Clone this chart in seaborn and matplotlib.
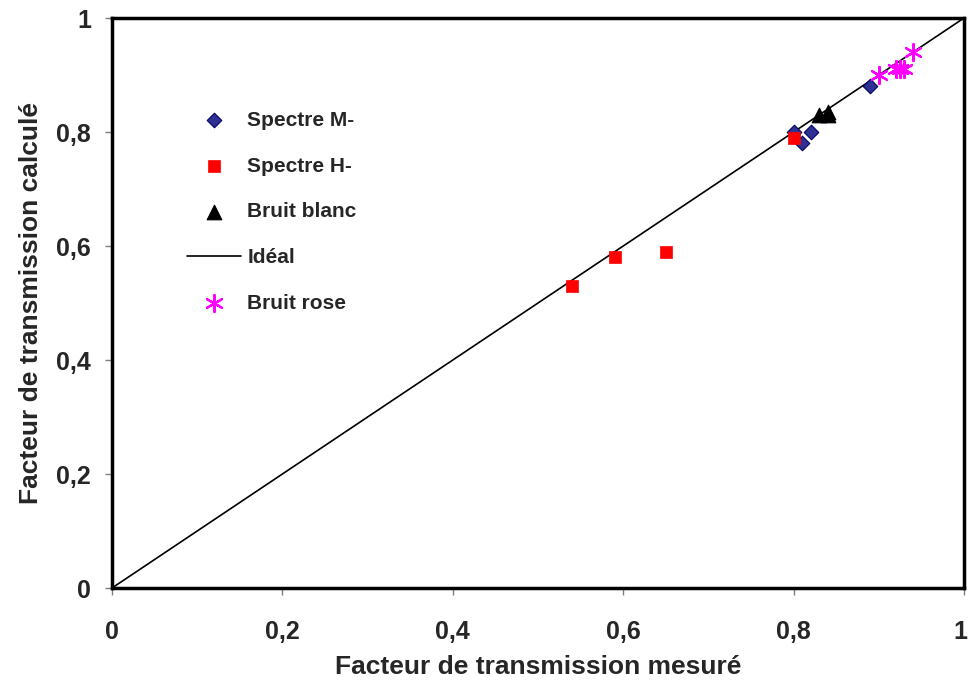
import matplotlib
matplotlib.use("Agg")
import matplotlib.pyplot as plt
import matplotlib.transforms as mtransforms
import seaborn as sns

# Données (mesuré, calculé)
spectre_m_x = [0.80, 0.82, 0.81, 0.89]
spectre_m_y = [0.80, 0.80, 0.78, 0.88]

spectre_h_x = [0.54, 0.59, 0.65, 0.80]
spectre_h_y = [0.53, 0.58, 0.59, 0.79]

bruit_blanc_x = [0.83, 0.84, 0.84]
bruit_blanc_y = [0.83, 0.835, 0.83]

bruit_rose_x = [0.90, 0.92, 0.925, 0.93, 0.94]
bruit_rose_y = [0.90, 0.91, 0.91, 0.91, 0.94]

ideal_x = [0, 1]
ideal_y = [0, 1]

ticks = [0, 0.2, 0.4, 0.6, 0.8, 1]
tick_labels = ["0", "0,2", "0,4", "0,6", "0,8", "1"]

sns.set_style("white")
plt.rcParams['font.family'] = ['Liberation Sans', 'DejaVu Sans']

fig = plt.figure(figsize=(9.68, 6.85), dpi=100)
ax = fig.add_axes([0.1157, 0.1416, 0.8802, 0.8321])

sns.scatterplot(x=spectre_m_x, y=spectre_m_y, marker='D', s=55, color='#2e3192',
                edgecolor='#000066', linewidth=0.8, label='Spectre M-', ax=ax, zorder=3)
sns.scatterplot(x=spectre_h_x, y=spectre_h_y, marker='s', s=80, color='#ff0000',
                edgecolor='#ff0000', linewidth=0.5, label='Spectre H-', ax=ax, zorder=3)
sns.scatterplot(x=bruit_blanc_x, y=bruit_blanc_y, marker='^', s=110, color='black',
                edgecolor='black', label='Bruit blanc', ax=ax, zorder=3)
sns.lineplot(x=ideal_x, y=ideal_y, color='black', linewidth=1.2, label='Idéal', ax=ax, zorder=2)
sns.scatterplot(x=bruit_rose_x, y=bruit_rose_y, marker=(6, 2, 0), s=150, color='#ff00ff',
                linewidth=1.6, label='Bruit rose', ax=ax, zorder=3)

ax.set_xlim(0, 1)
ax.set_ylim(0, 1)
ax.set_xticks(ticks)
ax.set_yticks(ticks)
ax.set_xticklabels(tick_labels, fontsize=18, fontweight='bold')
ax.set_yticklabels(tick_labels, fontsize=18, fontweight='bold')
ax.tick_params(axis='both', direction='out', length=5, width=1, color='gray',
               bottom=True, left=True)
ax.tick_params(axis='x', pad=18)
ax.tick_params(axis='y', pad=10)

# le dernier libellé "1" touche le bord droit : léger décalage
last = ax.get_xticklabels()[-1]
last.set_transform(last.get_transform() +
                   mtransforms.ScaledTranslation(-4 / 100, 0, fig.dpi_scale_trans))

for sp in ax.spines.values():
    sp.set_linewidth(2.5)
    sp.set_color('black')

ax.set_xlabel('Facteur de transmission mesuré', fontsize=19, fontweight='bold', labelpad=8)
ax.set_ylabel('Facteur de transmission calculé', fontsize=19, fontweight='bold', labelpad=10)

leg = ax.legend(loc='upper left', bbox_to_anchor=(0.066, 0.87), frameon=False,
                prop={'weight': 'bold', 'size': 15}, labelspacing=1.28,
                handlelength=2.6, handletextpad=0.3)

fig.savefig('out.png', dpi=100)
